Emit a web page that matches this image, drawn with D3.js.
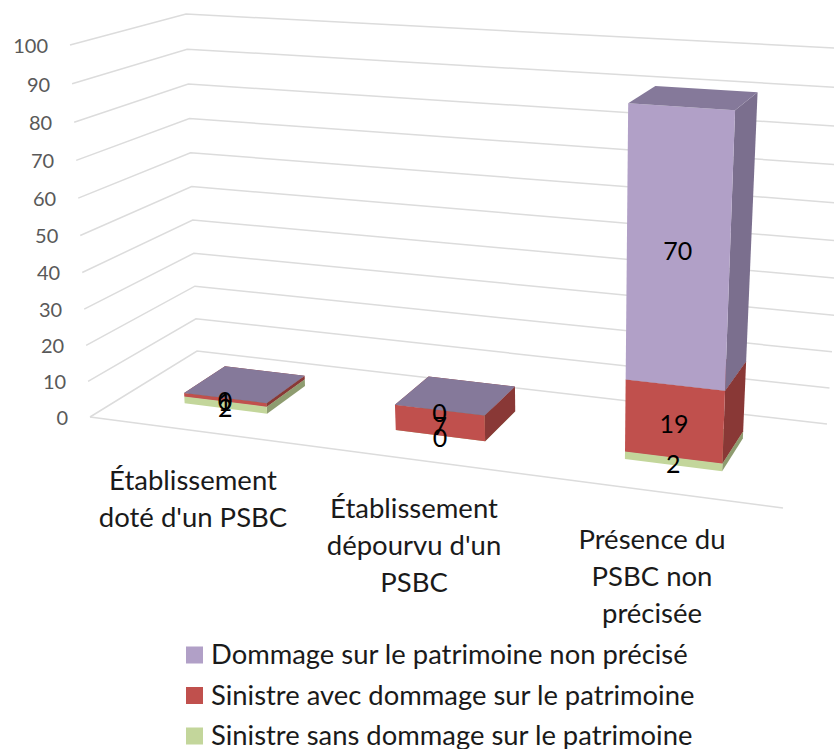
<!DOCTYPE html>
<html>
<head>
<meta charset="utf-8">
<script src="https://cdnjs.cloudflare.com/ajax/libs/d3/7.8.5/d3.min.js"></script>
<style>
html, body { margin: 0; padding: 0; background: #fff; }
svg { display: block; font-family: Lato, "Open Sans", sans-serif; }
</style>
</head>
<body>
<svg id="chart" width="834" height="749"></svg>
<script>
// Data
var categories = ["doted", "without", "unknown"];
var categoryLines = [
  ["Établissement", "doté d'un PSBC"],
  ["Établissement", "dépourvu d'un", "PSBC"],
  ["Présence du", "PSBC non", "précisée"]
];
var labelTops = [480, 508, 539];
var labelCenters = [193, 414, 652];
var seriesKeys = ["sans", "avec", "nonPrecise"];
var seriesNames = {
  nonPrecise: "Dommage sur le patrimoine non précisé",
  avec: "Sinistre avec dommage sur le patrimoine",
  sans: "Sinistre sans dommage sur le patrimoine"
};
var sansValues = [2, 0, 2];
var avecValues = [1, 7, 19];
var nonPreciseValues = [0, 0, 70];
var yTicks = [0, 10, 20, 30, 40, 50, 60, 70, 80, 90, 100];

var FRONT_COLORS = { nonPrecise: "#B1A0C7", avec: "#C0504D", sans: "#C3D69B" };
var SIDE_COLORS = { nonPrecise: "#7B6F8E", avec: "#893836", sans: "#8E9C70" };
var TOP_COLORS = { nonPrecise: "#85799A", avec: "#9A403D", sans: "#A3B37F" };
var GRID_COLOR = "#DCDCDC";
var LABEL_COLOR = "#1a1a1a";

// Corners of the 3D box: [front-left, back-left, back-right, front-right]
var FLOOR = [[90, 417], [197, 351], [827, 424], [783, 508]];
var ROOF = [[70, 45], [186, 14], [853, 49], [806, 92]];
var DEPTH_NEAR = 0.3, DEPTH_FAR = 0.7;
var HEIGHT_WARP = 0.953;

var svg = d3.select("#chart");

var rows = categories.map(function(c, i) {
  return { category: c, sans: sansValues[i], avec: avecValues[i], nonPrecise: nonPreciseValues[i] };
});
var stacked = d3.stack().keys(seriesKeys)(rows);

var xScale = d3.scaleBand().domain(categories).range([0, 1]).paddingInner(0.6).paddingOuter(0.3);
var zScale = d3.scaleLinear().domain([0, 100]).range([0, 1]);

// unit square to quad, corners in (u,v): (0,0) (0,1) (1,1) (1,0)
function makeHomography(q) {
  var x0 = q[0][0], y0 = q[0][1], x1 = q[3][0], y1 = q[3][1];
  var x2 = q[2][0], y2 = q[2][1], x3 = q[1][0], y3 = q[1][1];
  var dx1 = x1 - x2, dx2 = x3 - x2, sx = x0 - x1 + x2 - x3;
  var dy1 = y1 - y2, dy2 = y3 - y2, sy = y0 - y1 + y2 - y3;
  var det = dx1 * dy2 - dx2 * dy1;
  var g = (sx * dy2 - dx2 * sy) / det;
  var h = (dx1 * sy - sx * dy1) / det;
  var a = x1 - x0 + g * x1, b = x3 - x0 + h * x3;
  var d = y1 - y0 + g * y1, e = y3 - y0 + h * y3;
  return function(u, v) {
    var w = g * u + h * v + 1;
    return [(a * u + b * v + x0) / w, (d * u + e * v + y0) / w];
  };
}
var floorAt = makeHomography(FLOOR);
var roofAt = makeHomography(ROOF);

function project(u, v, value) {
  var t = zScale(value);
  var k = t * HEIGHT_WARP / ((1 - t) + t * HEIGHT_WARP);
  var p0 = floorAt(u, v), p1 = roofAt(u, v);
  return [p0[0] + (p1[0] - p0[0]) * k, p0[1] + (p1[1] - p0[1]) * k];
}

var line = d3.line();

// Gridlines and tick labels
var grid = svg.append("g").attr("fill", "none").attr("stroke", GRID_COLOR).attr("stroke-width", 1.5);
yTicks.forEach(function(tick) {
  grid.append("path").attr("d", line([project(0, 0, tick), project(0, 1, tick), project(1, 1, tick)]));
});
grid.append("path").attr("d", line([project(0, 0, 0), project(1, 0, 0)]));

svg.append("g").selectAll("text").data(yTicks).enter().append("text")
  .attr("x", function(d) { return project(0, 0, d)[0] - 22; })
  .attr("y", function(d) { return project(0, 0, d)[1] + 1; })
  .attr("dy", "0.35em")
  .attr("text-anchor", "end")
  .attr("font-size", 20)
  .attr("fill", "#595959")
  .text(function(d) { return d; });

// Bars, bottom segment first so upper segments paint over it
var bars = svg.append("g");
var dataLabels = [];
categories.forEach(function(cat, i) {
  var u0 = xScale(cat), u1 = u0 + xScale.bandwidth();
  stacked.forEach(function(layer) {
    var key = layer.key, low = layer[i][0], high = layer[i][1];
    var front = [project(u0, DEPTH_NEAR, low), project(u1, DEPTH_NEAR, low), project(u1, DEPTH_NEAR, high), project(u0, DEPTH_NEAR, high)];
    var side = [project(u1, DEPTH_NEAR, low), project(u1, DEPTH_FAR, low), project(u1, DEPTH_FAR, high), project(u1, DEPTH_NEAR, high)];
    var top = [project(u0, DEPTH_NEAR, high), project(u1, DEPTH_NEAR, high), project(u1, DEPTH_FAR, high), project(u0, DEPTH_FAR, high)];
    bars.append("path").attr("d", line(side) + "Z").attr("fill", SIDE_COLORS[key]);
    bars.append("path").attr("d", line(front) + "Z").attr("fill", FRONT_COLORS[key]);
    bars.append("path").attr("d", line(top) + "Z").attr("fill", TOP_COLORS[key]);
    dataLabels.push({ value: high - low, pos: project((u0 + u1) / 2, DEPTH_NEAR, (low + high) / 2) });
  });
});

svg.append("g").selectAll("text").data(dataLabels).enter().append("text")
  .attr("x", function(d) { return d.pos[0]; })
  .attr("y", function(d) { return d.pos[1] + 3; })
  .attr("dy", "0.35em")
  .attr("text-anchor", "middle")
  .attr("font-size", 25)
  .attr("fill", "#000")
  .text(function(d) { return d.value; });

// Category labels
categoryLines.forEach(function(lines, i) {
  lines.forEach(function(txt, j) {
    svg.append("text")
      .attr("x", labelCenters[i])
      .attr("y", labelTops[i] + j * 37)
      .attr("dy", "0.35em")
      .attr("text-anchor", "middle")
      .attr("font-size", 27.5)
      .attr("fill", LABEL_COLOR)
      .text(txt);
  });
});

// Legend
var legendKeys = ["nonPrecise", "avec", "sans"];
var legendRow = d3.scalePoint().domain(legendKeys).range([655, 736]);
var legend = svg.append("g").selectAll("g").data(legendKeys).enter().append("g")
  .attr("transform", function(d) { return "translate(186," + legendRow(d) + ")"; });
legend.append("rect")
  .attr("x", 0).attr("y", -8.5).attr("width", 17).attr("height", 17)
  .attr("fill", function(d) { return FRONT_COLORS[d]; });
legend.append("text")
  .attr("x", 25).attr("dy", "0.33em")
  .attr("font-size", 27.4)
  .attr("fill", LABEL_COLOR)
  .text(function(d) { return seriesNames[d]; });
</script>
</body>
</html>
